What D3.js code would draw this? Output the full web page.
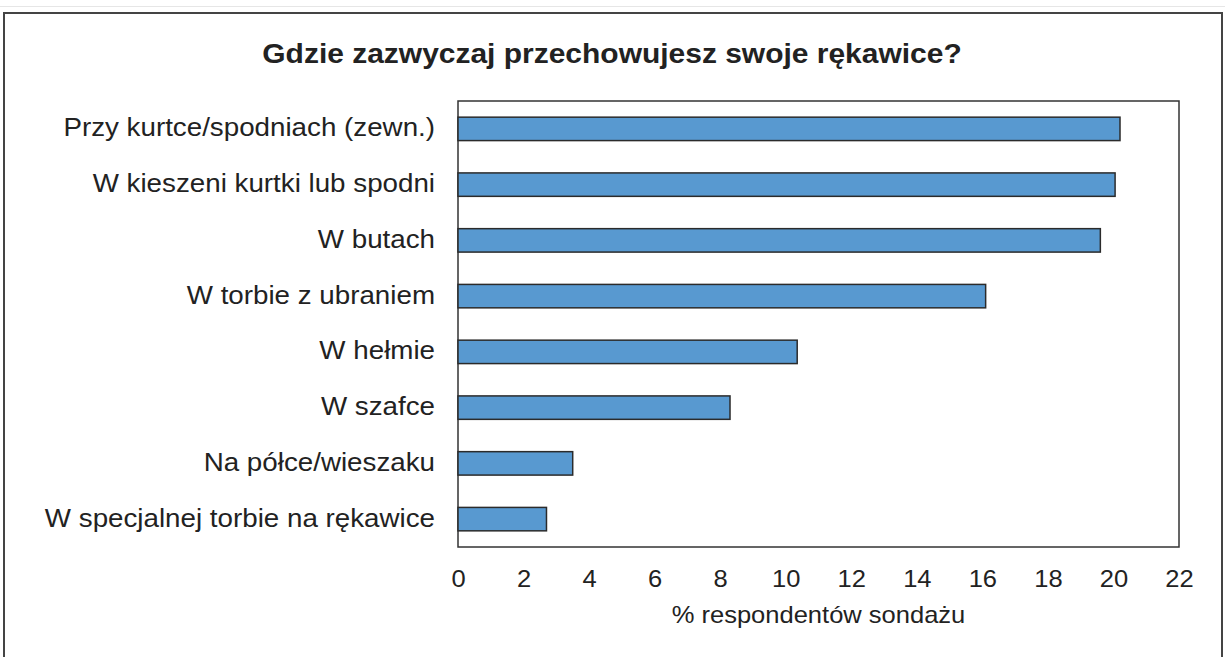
<!DOCTYPE html>
<html>
<head>
<meta charset="utf-8">
<script src="https://cdnjs.cloudflare.com/ajax/libs/d3/7.8.5/d3.min.js"></script>
<style>
  body { margin: 0; background: #fff; }
  svg { display: block; font-family: "Liberation Sans", Arial, sans-serif; }
</style>
</head>
<body>
<div id="chart"></div>
<script>
  var categories = [
    "Przy kurtce/spodniach (zewn.)",
    "W kieszeni kurtki lub spodni",
    "W butach",
    "W torbie z ubraniem",
    "W hełmie",
    "W szafce",
    "Na półce/wieszaku",
    "W specjalnej torbie na rękawice"
  ];
  var values = [20.2, 20.05, 19.6, 16.1, 10.35, 8.3, 3.5, 2.7];
  var xTicks = [0, 2, 4, 6, 8, 10, 12, 14, 16, 18, 20, 22];
  var title = "Gdzie zazwyczaj przechowujesz swoje rękawice?";
  var xTitle = "% respondentów sondażu";

  var width = 1225, height = 657;
  var plot = {left: 458, right: 1179, top: 101, bottom: 547};
  var stretch = 1.11; // the source type is a bit wider than Arial
  var textColor = "#222";

  var svg = d3.select("#chart")
    .append("svg")
    .attr("width", width)
    .attr("height", height);

  // light line at the very top and the outer frame
  svg.append("line")
    .attr("x1", 0).attr("x2", width)
    .attr("y1", 6.5).attr("y2", 6.5)
    .attr("stroke", "#e6e6e6").attr("stroke-width", 1);

  svg.append("path")
    .attr("d", "M4,660 V13 H1222 V660")
    .attr("fill", "none")
    .attr("stroke", "#444")
    .attr("stroke-width", 2);

  svg.append("text")
    .attr("transform", "translate(612,63) scale(" + stretch + ",1)")
    .attr("text-anchor", "middle")
    .attr("font-size", "27px")
    .attr("font-weight", "bold")
    .attr("fill", textColor)
    .text(title);

  var x = d3.scaleLinear()
    .domain([0, 22])
    .range([plot.left, plot.right]);

  var y = d3.scaleBand()
    .domain(categories)
    .range([plot.top, plot.bottom])
    .paddingInner(0.58)
    .paddingOuter(0.29);

  // plot frame
  svg.append("rect")
    .attr("x", plot.left)
    .attr("y", plot.top)
    .attr("width", plot.right - plot.left)
    .attr("height", plot.bottom - plot.top)
    .attr("fill", "none")
    .attr("stroke", "#333")
    .attr("stroke-width", 1.5);

  svg.selectAll("rect.bar")
    .data(values)
    .enter()
    .append("rect")
    .attr("class", "bar")
    .attr("x", x(0))
    .attr("y", function (d, i) { return y(categories[i]); })
    .attr("width", function (d) { return x(d) - x(0); })
    .attr("height", y.bandwidth())
    .attr("fill", "#5899d0")
    .attr("stroke", "#2b2b2b")
    .attr("stroke-width", 1.5);

  // category labels
  var yAxis = d3.axisLeft(y).tickSize(0).tickPadding(23);
  var gy = svg.append("g")
    .attr("transform", "translate(" + plot.left + ",0)")
    .call(yAxis);
  gy.select(".domain").remove();
  gy.selectAll("text")
    .attr("x", -23 / stretch)
    .attr("dy", "0.3em")
    .attr("transform", "scale(" + stretch + ",1)")
    .attr("font-size", "25px")
    .attr("font-family", "'Liberation Sans', Arial, sans-serif")
    .attr("fill", textColor);

  var xAxis = d3.axisBottom(x).tickValues(xTicks).tickSize(0).tickPadding(24);
  var gx = svg.append("g")
    .attr("transform", "translate(0," + plot.bottom + ")")
    .call(xAxis);
  gx.select(".domain").remove();
  gx.selectAll("text")
    .attr("transform", "scale(" + stretch + ",1)")
    .attr("font-size", "23px")
    .attr("font-family", "'Liberation Sans', Arial, sans-serif")
    .attr("fill", textColor);

  svg.append("text")
    .attr("transform", "translate(" + (plot.left + plot.right) / 2 + ",623) scale(" + stretch + ",1)")
    .attr("text-anchor", "middle")
    .attr("font-size", "23px")
    .attr("fill", textColor)
    .text(xTitle);
</script>
</body>
</html>
